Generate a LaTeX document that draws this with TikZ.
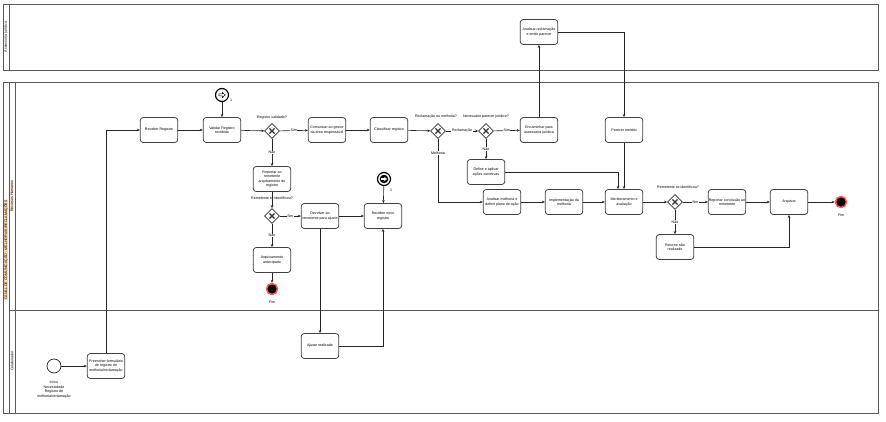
\documentclass[tikz,border=0pt]{standalone}
\usepackage{fontspec}
\setmainfont{Liberation Sans}
\usetikzlibrary{shapes.geometric,arrows.meta}
\begin{document}
\begin{tikzpicture}[x=1pt,y=-1pt,
  every node/.style={font=\fontsize{3.6}{4.4}\selectfont, inner sep=0.5pt},
  pool/.style={draw=black!65, line width=0.9pt},
  lane/.style={draw=black!65, line width=0.7pt},
  task/.style={draw=black!75, line width=0.8pt, rounded corners=3pt, fill=white,
    minimum width=37.5pt, minimum height=25pt, align=center},
  gw/.style={diamond, draw=black!80, line width=0.7pt, fill=white, minimum size=15pt, inner sep=0pt,
    path picture={\draw[line width=1.3pt]
      ([shift={(-2.6pt,-2.6pt)}]path picture bounding box.center) -- ([shift={(2.6pt,2.6pt)}]path picture bounding box.center)
      ([shift={(-2.6pt,2.6pt)}]path picture bounding box.center) -- ([shift={(2.6pt,-2.6pt)}]path picture bounding box.center);}},
  endev/.style={circle, fill=black, draw=red!65, line width=1.5pt, minimum size=11pt, inner sep=0pt},
  startev/.style={circle, draw=black!85, line width=0.7pt, fill=white, minimum size=14pt, inner sep=0pt},
  catchev/.style={circle, draw=black, line width=1.2pt, fill=white, minimum size=13pt, inner sep=0pt,
    path picture={\draw[line width=0.5pt] ([shift={(-3.2pt,1pt)}]path picture bounding box.center)
      -- ++(3.6pt,0) -- ++(0,1.6pt) -- ++(2.8pt,-2.6pt) -- ++(-2.8pt,-2.6pt) -- ++(0,1.6pt) -- ++(-3.6pt,0) -- cycle;}},
  throwev/.style={circle, draw=black, line width=1.2pt, fill=white, minimum size=13pt, inner sep=0pt,
    path picture={\fill[black] (path picture bounding box.center) circle (4.3pt);
      \fill[white] ([shift={(-3pt,0.8pt)}]path picture bounding box.center)
      -- ++(3.4pt,0) -- ++(0,1.4pt) -- ++(2.6pt,-2.2pt) -- ++(-2.6pt,-2.2pt) -- ++(0,1.4pt) -- ++(-3.4pt,0) -- cycle;}},
  arr/.style={draw=black!85, line width=0.6pt, -{Stealth[length=3pt,width=2.6pt]}},
  lbl/.style={fill=white, inner sep=0.6pt},
  evcaption/.style={align=center}
]
\useasboundingbox (0,0) rectangle (886,422);

% pools and lanes
\draw[pool] (3,4) rectangle (878,70);
\draw[lane] (9,4) -- (9,70);
\node[rotate=90] (plj) at (6,37) {Assessoria jurídica};

\draw[pool] (3,82) rectangle (878,413);
\draw[lane] (9,82) -- (9,413);
\draw[lane] (15,82) -- (15,413);
\draw[lane] (9,310) -- (878,310);
\node[rotate=90, fill=orange!30] (pmain) at (6,250) {CANAL DE COMUNICAÇÃO - MELHORIAS/RECLAMAÇÕES};
\node[rotate=90, fill=orange!15] (lrh) at (12,196) {Recursos Humanos};
\node[rotate=90] (lcol) at (12,361) {Colaborador};

% Colaborador lane
\node[startev] (start) at (54,366) {};
\node[evcaption] (startl) at (54,389.5) {Início\\Necessidade\\Registro de\\melhoria/reclamação};
\node[task] (pre) at (106,366) {Preencher formulário\\de registro de\\melhoria/reclamação};
\node[task] (aj) at (320,346) {Ajuste realizado};

% top lane
\node[task] (rr) at (159,130) {Receber Registro};
\node[task] (val) at (222,130) {Validar Registro\\recebido};
\node[catchev] (ev1) at (222,95) {};
\node (ev1l) at (231,100) {1};
\node[gw] (g1) at (272,131) {};
\node (g1l) at (272,118) {Registro validado?};
\node[task] (com) at (327,130) {Comunicar ao gestor\\da área responsável};
\node[task] (cla) at (389,130) {Classificar registro};
\node[gw] (g3) at (438,131) {};
\node (g3l) at (436,117) {Reclamação ou melhoria?};
\node[gw] (g4) at (486,131) {};
\node (g4l) at (486,117) {Necessário parecer jurídico?};
\node[task] (enc) at (539,130) {Encaminhar para\\assessoria jurídica};
\node[task] (anr) at (539,32) {Analisar reclamação\\e emitir parecer};
\node[task] (par) at (624,130) {Parecer emitido};
\node[task] (def) at (486,172) {Definir e aplicar\\ações corretivas};
\node[task] (anm) at (502,202) {Analisar melhoria e\\definir plano de ação};
\node[task] (imp) at (564,202) {Implementação da\\melhoria};
\node[task] (mon) at (624,202) {Monitoramento e\\avaliação};
\node[gw] (g5) at (675,202) {};
\node (g5l) at (678,187) {Remetente se identificou?};
\node[task] (rep2) at (727,202) {Reportar conclusão ao\\remetente};
\node[task] (ret) at (675,247) {Retorno não\\realizado};
\node[task] (arq) at (789,202) {Arquivar};
\node[endev] (end2) at (841,202) {};
\node (end2l) at (841,215) {Fim};

\node[task] (rep1) at (272,179) {Reportar ao\\remetente\\arquivamento do\\registro};
\node[gw] (g2) at (272,216) {};
\node (g2l) at (272,198) {Remetente se identificou?};
\node[task] (arqa) at (272,260) {Arquivamento\\antecipado};
\node[endev] (end1) at (272,289) {};
\node (end1l) at (272,302) {Fim};
\node[task] (dev) at (320,216) {Devolver ao\\remetente para ajuste};
\node[task] (rn) at (383,216) {Receber novo\\registro};
\node[throwev] (ev2) at (384,179) {};
\node (ev2l) at (391,190) {1};

% connectors
\draw[arr] (start) -- (pre);
\draw[arr] (pre.north) |- (rr.west);
\draw[arr] (rr) -- (val);
\draw[arr] (ev1) -- (val);
\draw[arr] (val) -- (g1);
\draw[arr] (g1) -- node[lbl] {Sim} (com);
\draw[arr] (g1) -- node[lbl] {Não} (rep1);
\draw[arr] (com) -- (cla);
\draw[arr] (cla) -- (g3);
\draw[arr] (g3) -- node[lbl] {Reclamação} (g4);
\draw[arr] (g3.south) |- node[lbl, pos=0.11] {Melhoria} (anm.west);
\draw[arr] (g4) -- node[lbl] {Sim} (enc);
\draw[arr] (g4) -- node[lbl] {Não} (def);
\draw[arr] (enc) -- (anr);
\draw[arr] (anr.east) -| (par.north);
\draw[arr] (par) -- (mon);
\draw[arr] (def.east) -| ([xshift=-6pt]mon.north);
\draw[arr] (anm) -- (imp);
\draw[arr] (imp) -- (mon);
\draw[arr] (mon) -- (g5);
\draw[arr] (g5) -- node[lbl] {Sim} (rep2);
\draw[arr] (g5) -- node[lbl] {Não} (ret);
\draw[arr] (rep2) -- (arq);
\draw[arr] (ret.east) -| (arq.south);
\draw[arr] (arq) -- (end2);
\draw[arr] (rep1) -- (g2);
\draw[arr] (g2) -- node[lbl] {Sim} (dev);
\draw[arr] (g2) -- node[lbl] {Não} (arqa);
\draw[arr, line width=0.9pt] (arqa) -- (end1);
\draw[arr] (dev) -- (rn);
\draw[arr] (dev) -- (aj);
\draw[arr] (aj.east) -| (rn.south);
\draw[arr] (ev2) -- (rn);
\end{tikzpicture}
\end{document}
